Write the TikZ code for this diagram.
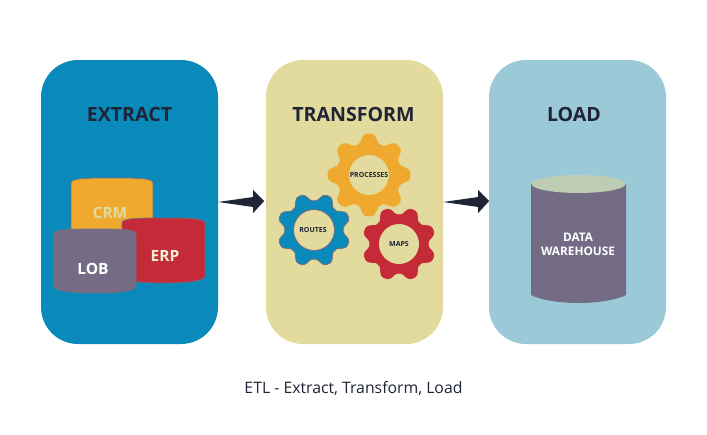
\documentclass[tikz,border=0pt]{standalone}
\usepackage{xcolor}
\usepackage{fontspec}
\setmainfont{Open Sans}
\usetikzlibrary{arrows.meta, positioning, calc}
\definecolor{eblue}{HTML}{0A8ABB}
\definecolor{tsand}{HTML}{E3DA9D}
\definecolor{lsky}{HTML}{9CC9D8}
\definecolor{eorange}{HTML}{EFA92F}
\definecolor{ered}{HTML}{C42A38}
\definecolor{egray}{HTML}{746C84}
\definecolor{einkd}{HTML}{1F2437}
\definecolor{etop}{HTML}{BCCDB4}
\tikzset{
  panel/.style={minimum width=177pt, minimum height=284pt, inner sep=0pt, rounded corners=37pt},
  paneltitle/.style={font=\fontsize{19.6}{20}\selectfont\bfseries, text=einkd, inner sep=0pt},
  geartext/.style={font=\fontsize{7}{7}\selectfont\bfseries, text=einkd, inner sep=0pt},
  dbtext/.style={font=\fontsize{15.5}{16}\selectfont\bfseries, inner sep=0pt},
  flowarrow/.style={fill=einkd},
}
\begin{document}
\begin{tikzpicture}[x=1pt, y=-1pt]
  \useasboundingbox (0,0) rectangle (707,434);
  \fill[white] (0,0) rectangle (707,434);

  %% Panels
  \node[panel, fill=eblue] (extract) at (129.5,202) {};
  \node[panel, fill=tsand] (transform) at (354.5,202) {};
  \node[panel, fill=lsky] (load) at (577.5,202) {};
  \node[paneltitle] (extracttitle) at (129.5,114) {EXTRACT};
  \node[paneltitle] (transformtitle) at (353.5,114) {TRANSFORM};
  \node[paneltitle] (loadtitle) at (574,114) {LOAD};

  %% Arrows
  \foreach \a in {extract, transform}{
    \fill[flowarrow] (\a.east) -- ++(35,-5) -- ++(0,-7) -- ++(11,11) -- ++(-11,12) -- ++(0,-6) -- cycle;
  }

  %% Cylinders
  \foreach \x/\y/\w/\h/\col in {
    71/178/82/72/eorange,
    122/218/83/65/ered,
    54/229/82/64/egray}{
    \fill[\col, draw=egray, line width=0.7pt] (\x,\y+5) .. controls (\x,\y) and (\x+\w*0.2,\y) .. (\x+\w/2,\y)
      .. controls (\x+\w*0.8,\y) and (\x+\w,\y) .. (\x+\w,\y+5) -- (\x+\w,\y+\h-7)
      .. controls (\x+\w,\y+\h-2) and (\x+\w*0.8,\y+\h) .. (\x+\w/2,\y+\h)
      .. controls (\x+\w*0.2,\y+\h) and (\x,\y+\h-2) .. (\x,\y+\h-7) -- cycle;
  }
  \node[dbtext, text=tsand] (crm) at (110,213) {CRM};
  \node[dbtext, text=tsand!40] (erp) at (165,256) {ERP};
  \node[dbtext, text=white] (lob) at (93,269) {LOB};

  %% Gears
  \foreach \cx/\cy/\ro/\am/\rot/\col/\edge in {
    369/175/36.5/5/0/eorange/eorange,
    314/230/33/4.2/22.5/eblue/egray,
    399/244/33/4.2/22.5/ered/ered}{
    \fill[\col, draw=\edge, line width=0.8pt, even odd rule, shift={(\cx,\cy)}]
      plot[domain=0:360, samples=193] (\x:{\ro+\am*(cos(8*(\x+\rot))-0.1*cos(24*(\x+\rot)))}) -- cycle
      (0,0) circle (20.5);
  }
  \node[geartext] (processes) at (369,175) {PROCESSES};
  \node[geartext] (routes) at (313,230) {ROUTES};
  \node[geartext] (maps) at (399,244) {MAPS};

  %% Warehouse
  \fill[egray] (531,184) -- (531,295) .. controls (540,300) and (560,303) .. (578.5,303)
    .. controls (597,303) and (617,300) .. (626,295) -- (626,184) -- cycle;
  \fill[etop] (578.5,184) ellipse (47 and 9);
  \node[font=\fontsize{11.8}{14}\selectfont\bfseries, text=white, align=center, inner sep=0pt] (warehouse) at (578,244) {DATA\\WAREHOUSE};

  %% Caption
  \node[font=\fontsize{15.8}{16}\selectfont, text=einkd, inner sep=0pt] (caption) at (353.5,388) {ETL - Extract, Transform, Load};
\end{tikzpicture}
\end{document}
